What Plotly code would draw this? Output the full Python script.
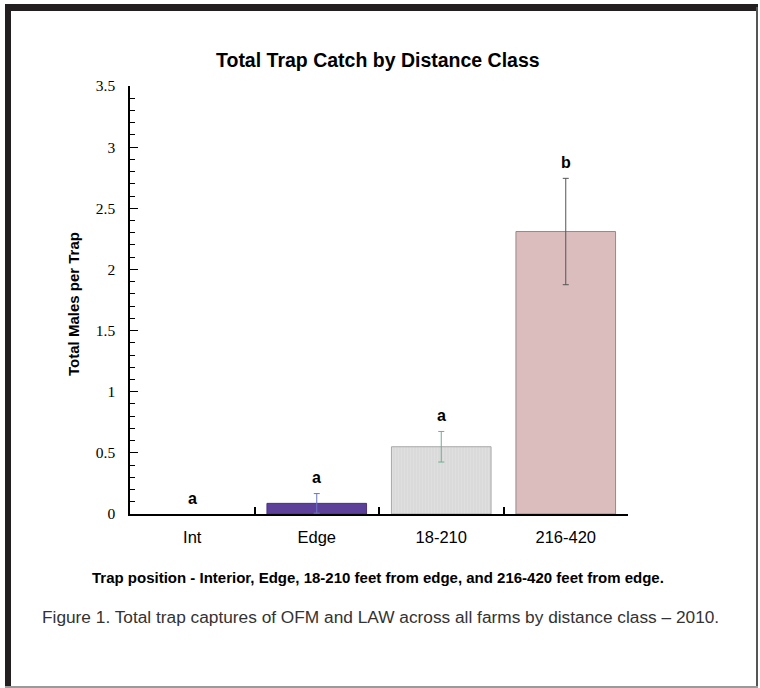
import plotly.graph_objects as go

categories = ["Int", "Edge", "18-210", "216-420"]
values = [0.0, 0.087, 0.55, 2.31]
errors = [0.0, 0.08, 0.125, 0.435]
letters = ["a", "a", "a", "b"]
bar_colors = ["#5c4099", "#5c4099", "#dcdcdc", "#dbbdbe"]
line_colors = ["#4a3380", "#4a3380", "#a8a8a8", "#9a8888"]
err_colors = ["#6c74c4", "#6c74c4", "#6fae8c", "#555555"]

W, H = 760, 688
L, R, T, B = 130, 628, 86, 514


def px(x):
    return (x - L) / (R - L)


def py(y):
    return (B - y) / (B - T)


fig = go.Figure()
for i, c in enumerate(categories):
    marker = dict(color=bar_colors[i],
                  line=dict(color=line_colors[i], width=1 if values[i] > 0 else 0))
    if c == "18-210":
        marker["pattern"] = dict(shape="|", bgcolor="#d9d9d9", fgcolor="#e6e6e6",
                                 size=3, solidity=0.4)
    fig.add_trace(go.Bar(
        x=[c], y=[values[i]], width=0.8, marker=marker,
        error_y=dict(type="data", array=[errors[i]], visible=errors[i] > 0,
                     color=err_colors[i], thickness=1, width=3),
        showlegend=False, hoverinfo="skip",
    ))

annotations = []
for i, c in enumerate(categories):
    annotations.append(dict(
        x=c, y=values[i] + errors[i], xref="x", yref="y", text="<b>%s</b>" % letters[i],
        showarrow=False, yshift=16, xanchor="center", yanchor="middle",
        font=dict(family="Liberation Sans", size=16, color="black"),
    ))

annotations += [
    dict(x=px(378), y=py(60), xref="paper", yref="paper", showarrow=False,
         xanchor="center", yanchor="middle",
         text="<b>Total Trap Catch by Distance Class</b>",
         font=dict(family="Liberation Sans", size=19.5, color="black")),
    dict(x=px(73), y=py(304), xref="paper", yref="paper", showarrow=False, textangle=-90,
         xanchor="center", yanchor="middle",
         text="<b>Total Males per Trap</b>",
         font=dict(family="Liberation Sans", size=15, color="black")),
    dict(x=px(378), y=py(577), xref="paper", yref="paper", showarrow=False,
         xanchor="center", yanchor="middle",
         text="<b>Trap position - Interior, Edge, 18-210 feet from edge, and 216-420 feet from edge.</b>",
         font=dict(family="Liberation Sans", size=15, color="black")),
    dict(x=px(380), y=py(617), xref="paper", yref="paper", showarrow=False,
         xanchor="center", yanchor="middle",
         text="Figure 1. Total trap captures of OFM and LAW across all farms by distance class \u2013 2010.",
         font=dict(family="Liberation Sans", size=17.3, color="#333333")),
]

shapes = [
    dict(type="rect", xref="paper", yref="paper", x0=px(5), x1=px(758), y0=py(11), y1=py(4),
         fillcolor="#231f20", line=dict(width=0), layer="above"),
    dict(type="rect", xref="paper", yref="paper", x0=px(5), x1=px(11), y0=py(688), y1=py(4),
         fillcolor="#231f20", line=dict(width=0), layer="above"),
    dict(type="rect", xref="paper", yref="paper", x0=px(756), x1=px(758), y0=py(688), y1=py(7),
         fillcolor="#555555", line=dict(width=0), layer="above"),
    dict(type="rect", xref="paper", yref="paper", x0=px(5), x1=px(758), y0=py(688), y1=py(686),
         fillcolor="#9a9a9a", line=dict(width=0), layer="above"),
]

fig.update_layout(
    width=W, height=H,
    margin=dict(l=L, r=W - R, t=T, b=H - B, pad=0),
    paper_bgcolor="white", plot_bgcolor="white",
    bargap=0.2,
    annotations=annotations,
    shapes=shapes,
    xaxis=dict(
        type="category", categoryorder="array", categoryarray=categories,
        range=[-0.5, 3.5], showline=True, linecolor="black", linewidth=1.5,
        tickson="boundaries", ticks="inside", ticklen=7, tickwidth=1.5, tickcolor="black",
        showgrid=False, zeroline=False, ticklabelstandoff=7,
        tickfont=dict(family="Liberation Sans", size=16.5, color="black"),
    ),
    yaxis=dict(
        range=[0, 3.5], dtick=0.5, tick0=0, showline=True, linecolor="black", linewidth=1.5,
        ticks="inside", ticklen=8, tickwidth=1, tickcolor="black",
        showgrid=False, zeroline=False, ticklabelstandoff=10,
        tickfont=dict(family="Liberation Serif", size=15.5, color="black"),
        minor=dict(dtick=0.1, ticks="inside", ticklen=5, tickwidth=1, tickcolor="black", showgrid=False),
    ),
)

fig.write_html("out.html", config={"displayModeBar": False},
               post_script="document.body.style.margin='0';")
